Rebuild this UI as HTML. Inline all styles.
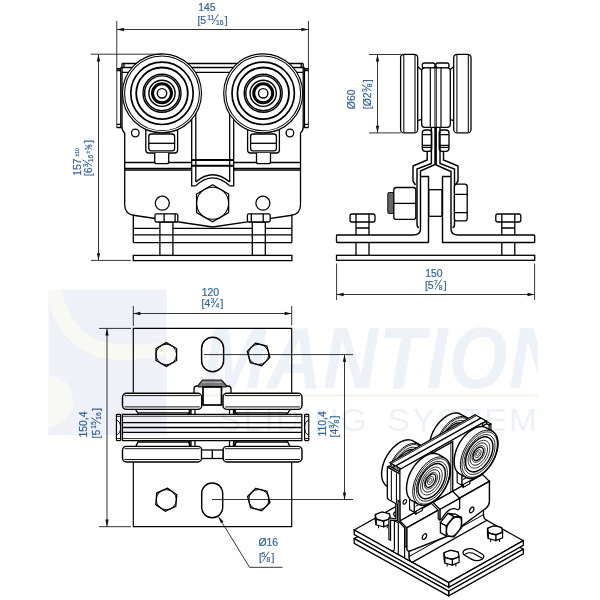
<!DOCTYPE html>
<html><head><meta charset="utf-8"><style>
html,body{margin:0;padding:0;background:#fff;width:600px;height:600px;overflow:hidden}
svg{display:block;will-change:transform}
.k{stroke:#000;fill:none}
.w{stroke:#000;fill:#fff}
.t{stroke:#111;fill:none;stroke-width:0.85}
.a{fill:#111;stroke:none}
text{font-family:"Liberation Sans",sans-serif;fill:#3565a0;stroke:#3565a0;stroke-width:0.2px}
</style></head><body>
<svg width="600" height="600" viewBox="0 0 600 600">
<g stroke-width="1.30">
<path class="k" d="M122,63.5 H303.2 M122,63.5 V67.5 M124,63.5 V67.5 M303.2,63.5 V67.5 M301.2,63.5 V67.5 M120.75,67.5 H304.45 M122,72.4 H303.2"/>
<path class="k" d="M116.75,68.75 H120.75 M116.75,70.5 H120.75 M120.75,67.5 V127.5 M116.75,127.5 H122 M116.75,124.3 H120.75"/>
<path class="k" d="M308.45,68.75 H304.45 M308.45,70.5 H304.45 M304.45,67.5 V127.5 M308.45,127.5 H303.2 M308.45,124.3 H304.45"/>
<path class="k" d="M122,67.5 V127 Q122,131 124.7,133 V205 Q124.7,214.5 135,215.5 L212.6,227 L290.2,215.5 Q300.5,214.5 300.5,205 V133 Q303.2,131 303.2,127 V67.5"/>
<path class="k" stroke-width="1.30" d="M124.7,162.5 H191.7 M233.7,162.5 H300.5"/>
<path class="k" stroke-width="1.30" d="M124.7,168.3 H191.7 M233.7,168.3 H300.5"/>
<path class="k" stroke-width="1.30" d="M124.7,170 H191.7 M233.7,170 H300.5"/>
<path class="k" d="M191.7,72.4 V185.8 H195.8 M195.8,72.4 V182 M233.7,72.4 V185.8 H229.7 M229.7,72.4 V182"/>
<path class="k" stroke-width="1.95" d="M191.7,160 H233.7 M191.7,165.8 H233.7"/>
<path class="k" d="M195.8,185.8 Q212.6,170 229.7,185.8 M195.8,182 Q212.6,167.5 229.7,182"/>
<circle class="k" cx="135.3" cy="133" r="3.8"/><circle class="k" cx="289.9" cy="133" r="3.8"/>
<circle class="k" cx="162.3" cy="203.2" r="7"/><circle class="k" cx="262.9" cy="203.2" r="7"/>
<rect class="w" x="145.79999999999998" y="122" width="31.80000000000001" height="31" rx="3"/>
<rect class="k" x="148.79999999999998" y="134" width="25.80000000000001" height="16.8" rx="2.5"/>
<path class="k" d="M148.79999999999998,143.3 H174.6"/>
<path class="w" d="M154.7,153 V161.7 Q154.7,163.7 156.7,163.7 H166.7 Q168.7,163.7 168.7,161.7 V153"/>
<rect class="w" x="247.6" y="122" width="31.799999999999983" height="31" rx="3"/>
<rect class="k" x="250.6" y="134" width="25.799999999999983" height="16.8" rx="2.5"/>
<path class="k" d="M250.6,143.3 H276.4"/>
<path class="w" d="M256.5,153 V161.7 Q256.5,163.7 258.5,163.7 H268.5 Q270.5,163.7 270.5,161.7 V153"/>
<circle cx="162" cy="93.3" r="39.5" fill="#fff" stroke="none"/><circle cx="162" cy="93.3" r="39.5" class="k" stroke-width="1.17"/><circle cx="162" cy="93.3" r="37.4" class="k" stroke-width="1.04"/><circle cx="162" cy="93.3" r="31.2" class="k" stroke-width="1.69"/><circle cx="162" cy="93.3" r="25.8" class="k" stroke-width="1.82"/><circle cx="162" cy="93.3" r="19" class="k" stroke-width="1.43"/><circle cx="162" cy="93.3" r="17.4" class="k" stroke-width="1.43"/><circle cx="162" cy="93.3" r="13.1" class="k" stroke-width="1.43"/><circle cx="162" cy="93.3" r="10.1" class="k" stroke-width="1.82"/><circle cx="162" cy="93.3" r="8.9" class="k" stroke-width="1.82"/><circle cx="162" cy="93.3" r="4.7" class="k" stroke-width="1.43"/>
<circle cx="263.2" cy="93.3" r="39.5" fill="#fff" stroke="none"/><circle cx="263.2" cy="93.3" r="39.5" class="k" stroke-width="1.17"/><circle cx="263.2" cy="93.3" r="37.4" class="k" stroke-width="1.04"/><circle cx="263.2" cy="93.3" r="31.2" class="k" stroke-width="1.69"/><circle cx="263.2" cy="93.3" r="25.8" class="k" stroke-width="1.82"/><circle cx="263.2" cy="93.3" r="19" class="k" stroke-width="1.43"/><circle cx="263.2" cy="93.3" r="17.4" class="k" stroke-width="1.43"/><circle cx="263.2" cy="93.3" r="13.1" class="k" stroke-width="1.43"/><circle cx="263.2" cy="93.3" r="10.1" class="k" stroke-width="1.82"/><circle cx="263.2" cy="93.3" r="8.9" class="k" stroke-width="1.82"/><circle cx="263.2" cy="93.3" r="4.7" class="k" stroke-width="1.43"/>
<polygon class="w" points="212.60,184.80 228.62,194.05 228.62,212.55 212.60,221.80 196.58,212.55 196.58,194.05"/>
<circle class="k" cx="212.6" cy="203.3" r="16" stroke-width="1.04"/>
<path class="k" d="M133.3,214.5 V242.6 M291.9,214.5 V242.6 M133.3,228.3 H291.9 M133.3,234.8 H291.9 M133.3,242.6 H291.9"/>
<rect class="k" x="133.3" y="255.4" width="158.6" height="5.2"/>
<rect class="w" x="159.9" y="222" width="13" height="33.3"/>
<path class="k" d="M159.9,234.8 H172.9 M159.9,242.6 H172.9"/>
<rect class="w" x="155.0" y="213.8" width="22.8" height="8.2" rx="1.5"/>
<rect class="w" x="252.3" y="222" width="13" height="33.3"/>
<path class="k" d="M252.3,234.8 H265.3 M252.3,242.6 H265.3"/>
<rect class="w" x="247.4" y="213.8" width="22.8" height="8.2" rx="1.5"/>
<path class="k" d="M164.1,213.8 V222 M175.1,213.8 V222 M251.3,213.8 V222 M263.2,213.8 V222"/>
<path class="t" d="M116.75,21 V127.5 M308.45,21 V127.5 M117,29.5 H308.2"/>
<path class="a" d="M116.9,29.5 L123.9,27.8 L123.9,31.2Z"/>
<path class="a" d="M308.3,29.5 L301.3,27.8 L301.3,31.2Z"/>
<path class="t" d="M90.8,54.2 H162 M91,260.4 H130.8 M98.5,54.5 V260"/>
<path class="a" d="M98.5,54.4 L96.8,61.4 L100.2,61.4Z"/>
<path class="a" d="M98.5,260.2 L96.8,253.2 L100.2,253.2Z"/>
<text x="198.3" y="11.3" font-size="10.4">145</text>
<text x="197.40" y="23.70" font-size="10.4">[5</text><text x="207.17" y="19.80" font-size="6.8">11</text><path d="M212.17,24.10 L218.37,14.30" stroke="#3565a0" stroke-width="0.98" fill="none"/><text x="216.07" y="24.70" font-size="6.8">16</text><text x="224.84" y="23.70" font-size="10.4">]</text>
<g transform="translate(81,175.7) rotate(-90)"><text x="0" y="0" font-size="10.4">157</text><text x="19.3" y="-2.2" font-size="5">±10</text></g>
<g transform="translate(91.8,176.2) rotate(-90)"><text x="0.00" y="0.00" font-size="10.4">[6</text><text x="9.07" y="-3.90" font-size="6.8">3</text><path d="M10.17,0.40 L16.37,-9.40" stroke="#3565a0" stroke-width="0.98" fill="none"/><text x="13.97" y="1.00" font-size="6.8">16</text><text x="22.6" y="-2.2" font-size="5">±</text><text x="26.3" y="-2.6" font-size="4.6">3</text><path d="M27,0 L31,-6.5" stroke="#3565a0" stroke-width="0.85"/><text x="29.2" y="0" font-size="4.6">8</text><text x="33.2" y="0" font-size="10.4">]</text></g>
<rect class="w" x="400.6" y="54.3" width="17.099999999999966" height="78.6" rx="3.5"/>
<path class="k" stroke-width="1.04" d="M403.8,55 V132.2 M415.0,55 V132.2"/>
<rect class="w" x="453.7" y="54.3" width="17.30000000000001" height="78.6" rx="3.5"/>
<path class="k" stroke-width="1.04" d="M456.9,55 V132.2 M468.3,55 V132.2"/>
<path class="k" d="M417.7,66.7 L421.7,70 M417.7,120.7 L421.7,119.3 M453.7,66.7 L449.7,70 M453.7,120.7 L449.7,119.3"/>
<rect class="w" x="422.3" y="63" width="12.7" height="5" rx="2"/><rect class="w" x="435.8" y="63" width="13.2" height="5" rx="2"/>
<rect class="w" x="421.7" y="67.8" width="28.6" height="59.5" rx="3"/>
<path class="k" stroke-width="1.17" d="M430.3,68 V127.3 M441,68 V127.3"/>
<path class="k" stroke-width="0.91" d="M434.9,66 V127.3 M436.3,66 V127.3"/>
<rect class="w" x="422.3" y="130" width="9.399999999999977" height="21.3" rx="3"/>
<path class="k" d="M422.3,134.7 H431.7 M422.3,145.3 H431.7 M422.3,147.3 H431.7"/>
<rect class="w" x="439.2" y="130" width="9.800000000000011" height="21.3" rx="3"/>
<path class="k" d="M439.2,134.7 H449 M439.2,145.3 H449 M439.2,147.3 H449"/>
<path class="k" stroke-width="1.43" d="M427.2,151.3 V160 L413,166 V181 L415.5,185 M431.4,127.3 V163.5 L417,169 V224 Q417,227.5 419,227.5 M435,127.3 V164.5 L420.5,171 V229 Q420.5,235 413,235 M436.2,127.3 V165 L451,171.5 V229 Q451,235 458,235 M440,127.3 V163.5 L454.5,169 V224 Q454.5,227.5 452.5,227.5 M443.5,151.3 V160 L458,166 V181 L455.5,185 M420.5,176.5 H428.5 V242.5 M451,176.5 H442.5 V242.5"/>
<rect class="k" x="428.7" y="189.7" width="13.3" height="26.6"/>
<rect x="387.8" y="192.4" width="6.5" height="21.1" rx="1.5" fill="#666" stroke="#141414" stroke-width="1.04"/>
<rect class="w" x="393.8" y="187.5" width="22" height="31.9" rx="2.5"/>
<path class="k" d="M393.8,203.4 H415.8"/>
<rect class="w" x="454.4" y="184.2" width="12.8" height="36.7" rx="2.5"/>
<path class="k" d="M454.4,194.3 H467.2 M454.4,212.6 H467.2"/>
<path class="k" d="M413,235 H337.2 Q336.5,235 336.5,235.7 V241.8 Q336.5,242.5 337.2,242.5 H428.7 M458,235 H534 Q534.7,235 534.7,235.7 V241.8 Q534.7,242.5 534,242.5 H442"/>
<rect class="k" x="336.5" y="255.3" width="198.2" height="5"/>
<path class="k" d="M356.0,222 V235 M369.0,222 V235 M356.0,243 V255.6 M369.0,243 V255.6 M356.0,228 H369.0"/>
<rect class="w" x="350.0" y="214" width="25" height="8" rx="2"/>
<path class="k" d="M356.0,214 V222 M369.0,214 V222"/>
<path class="k" d="M501.8,222 V235 M514.8,222 V235 M501.8,243 V255.6 M514.8,243 V255.6 M501.8,228 H514.8"/>
<rect class="w" x="495.8" y="214" width="25" height="8" rx="2"/>
<path class="k" d="M501.8,214 V222 M514.8,214 V222"/>
<path class="t" d="M369,54.5 H401 M369,132.9 H401 M377.5,54.6 V132.8"/>
<path class="a" d="M377.5,54.6 L375.8,61.6 L379.2,61.6Z"/>
<path class="a" d="M377.5,132.8 L375.8,125.80000000000001 L379.2,125.80000000000001Z"/>
<path class="t" d="M336.6,263.5 V300 M534.6,263.5 V300 M336.8,294.5 H534.4"/>
<path class="a" d="M336.7,294.5 L343.7,292.8 L343.7,296.2Z"/>
<path class="a" d="M534.5,294.5 L527.5,292.8 L527.5,296.2Z"/>
<text x="425.3" y="277" font-size="10.4">150</text>
<text x="424.90" y="289.00" font-size="10.4">[5</text><text x="433.97" y="285.10" font-size="6.8">7</text><path d="M435.07,289.40 L441.27,279.60" stroke="#3565a0" stroke-width="0.98" fill="none"/><text x="438.87" y="290.00" font-size="6.8">8</text><text x="443.85" y="289.00" font-size="10.4">]</text>
<g transform="translate(355,109.2) rotate(-90)"><text x="0" y="0" font-size="10.4">Ø60</text></g>
<g transform="translate(371.3,109.2) rotate(-90)"><text x="0.00" y="0.00" font-size="10.4">[Ø2</text><text x="17.16" y="-3.90" font-size="6.8">3</text><path d="M18.26,0.40 L24.46,-9.40" stroke="#3565a0" stroke-width="0.98" fill="none"/><text x="22.06" y="1.00" font-size="6.8">8</text><text x="27.05" y="0.00" font-size="10.4">]</text></g>
<path class="k" stroke-width="1.17" d="M133.3,393 V328.4 H291.7 V393 M133.3,462 V526.7 H291.7 V462"/>
<polygon class="k" stroke-width="1.30" points="166.30,342.60 176.61,348.55 176.61,360.45 166.30,366.40 155.99,360.45 155.99,348.55"/>
<circle class="k" stroke-width="0.98" cx="166.3" cy="354.5" r="10.29"/>
<polygon class="k" stroke-width="1.30" points="255.57,343.10 266.87,346.13 269.90,357.43 261.63,365.70 250.33,362.67 247.30,351.37"/>
<circle class="k" stroke-width="0.98" cx="258.6" cy="354.4" r="10.12"/>
<polygon class="k" stroke-width="1.30" points="167.31,488.14 176.81,494.80 175.80,506.35 165.29,511.26 155.79,504.60 156.80,493.05"/>
<circle class="k" stroke-width="0.98" cx="166.3" cy="499.7" r="10.03"/>
<polygon class="k" stroke-width="1.30" points="255.80,488.30 267.00,491.30 270.00,502.50 261.80,510.70 250.60,507.70 247.60,496.50"/>
<circle class="k" stroke-width="0.98" cx="258.8" cy="499.5" r="10.03"/>
<path class="k" stroke-width="1.43" d="M201.6,348.2 A11.0,11.0 0 0 1 223.6,348.2 V360.8 A11.0,11.0 0 0 1 201.6,360.8 Z"/>
<path class="k" stroke-width="1.43" d="M201.7,493.5 A10.5,10.5 0 0 1 222.7,493.5 V507.29999999999995 A10.5,10.5 0 0 1 201.7,507.29999999999995 Z"/>
<rect class="w" x="122.4" y="414.4" width="179.4" height="26.2"/>
<path class="k" stroke-width="0.78" d="M122.4,416.3 H301.8"/>
<path class="k" stroke-width="1.17" d="M122.4,422.6 H301.8"/>
<path class="k" stroke-width="1.69" d="M122.4,427.5 H301.8"/>
<path class="k" stroke-width="1.17" d="M122.4,432.4 H301.8"/>
<path class="k" stroke-width="0.78" d="M122.4,438.5 H301.8"/>
<rect class="w" stroke-width="1.17" x="116.4" y="414.4" width="4.199999999999989" height="26.2" rx="0.8"/>
<path class="k" stroke-width="0.91" d="M116.4,416.3 H120.6 M116.4,438.6 H120.6 M116.4,420 Q120.6,421.5 120.6,427.5 Q120.6,433.5 116.4,435"/>
<rect class="w" stroke-width="1.17" x="304.6" y="414.4" width="4.199999999999989" height="26.2" rx="0.8"/>
<path class="k" stroke-width="0.91" d="M308.8,416.3 H304.6 M308.8,438.6 H304.6 M308.8,420 Q304.6,421.5 304.6,427.5 Q304.6,433.5 308.8,435"/>
<path class="k" d="M135.7,409.8 L138.7,414.2 M190.7,409.8 L187.7,414.2 M135.7,446.6 L138.7,440.6 M190.7,446.6 L187.7,440.6 M138.7,412.8 H187.7 M138.7,442 H187.7"/>
<path class="k" d="M234,409.8 L237,414.2 M290,409.8 L287,414.2 M234,446.6 L237,440.6 M290,446.6 L287,440.6 M237,412.8 H287 M237,442 H287"/>
<path class="k" d="M189.5,409 V414.2 M191,409 V414.2 M195,409 V414.2 M229.5,409 V414.2 M233.5,409 V414.2 M235,409 V414.2 M189.5,441 V446.6 M191,441 V446.6 M195,441 V446.6 M229.5,441 V446.6 M233.5,441 V446.6 M235,441 V446.6"/>
<path class="w" d="M194,393 V389 Q194,386 197,386 H228 Q231,386 231,389 V393"/>
<path d="M202.5,380 H221.5 L226,385 V387 H198.5 V385 Z" fill="#7a7a7a" stroke="#141414" stroke-width="1.17"/>
<path fill="none" stroke="#bbb" stroke-width="1.04" d="M202,382.3 H222"/>
<rect class="w" x="203" y="387" width="18.5" height="18" stroke-width="1.69"/>
<rect class="w" x="122.5" y="393.3" width="79.19999999999999" height="16.099999999999966" rx="4" stroke-width="1.43"/>
<path class="k" stroke="#777" stroke-width="0.91" d="M124.5,395.6 H199.7 M124.5,406.9 H199.7"/>
<rect class="w" x="122.5" y="446.4" width="79.19999999999999" height="15.600000000000023" rx="4" stroke-width="1.43"/>
<path class="k" stroke="#777" stroke-width="0.91" d="M124.5,448.7 H199.7 M124.5,459.5 H199.7"/>
<rect class="w" x="223" y="393.3" width="79" height="16.099999999999966" rx="4" stroke-width="1.43"/>
<path class="k" stroke="#777" stroke-width="0.91" d="M225,395.6 H300 M225,406.9 H300"/>
<rect class="w" x="223" y="446.4" width="79" height="15.600000000000023" rx="4" stroke-width="1.43"/>
<path class="k" stroke="#777" stroke-width="0.91" d="M225,448.7 H300 M225,459.5 H300"/>
<rect class="w" x="201.5" y="450" width="21.5" height="8.5"/>
<path class="k" d="M212.3,450 V458.5"/>
<path class="t" d="M133.3,306 V326 M291.7,306 V325.5 M133.5,313.5 H291.5"/>
<path class="a" d="M133.4,313.5 L140.4,311.8 L140.4,315.2Z"/>
<path class="a" d="M291.6,313.5 L284.6,311.8 L284.6,315.2Z"/>
<text x="201.8" y="295.5" font-size="10.4">120</text>
<text x="201.50" y="307.30" font-size="10.4">[4</text><text x="210.57" y="303.40" font-size="6.8">3</text><path d="M211.67,307.70 L217.87,297.90" stroke="#3565a0" stroke-width="0.98" fill="none"/><text x="215.47" y="308.30" font-size="6.8">4</text><text x="220.45" y="307.30" font-size="10.4">]</text>
<path class="t" d="M99,328.4 H131 M99,526.7 H131 M107,328.6 V526.5"/>
<path class="a" d="M107,328.5 L105.3,335.5 L108.7,335.5Z"/>
<path class="a" d="M107,526.6 L105.3,519.6 L108.7,519.6Z"/>
<g transform="translate(87.3,437.5) rotate(-90)"><text x="0" y="0" font-size="10.4">150,4</text></g>
<g transform="translate(100.3,438.5) rotate(-90)"><text x="0.00" y="0.00" font-size="10.4">[5</text><text x="9.77" y="-3.90" font-size="6.8">15</text><path d="M14.77,0.40 L20.97,-9.40" stroke="#3565a0" stroke-width="0.98" fill="none"/><text x="18.67" y="1.00" font-size="6.8">16</text><text x="27.44" y="0.00" font-size="10.4">]</text></g>
<path class="t" d="M204,354.6 H353 M212,499.5 H353 M344.5,354.8 V499.3"/>
<path class="a" d="M344.5,354.7 L342.8,361.7 L346.2,361.7Z"/>
<path class="a" d="M344.5,499.4 L342.8,492.4 L346.2,492.4Z"/>
<g transform="translate(325.5,436.5) rotate(-90)"><text x="0" y="0" font-size="10.4">110,4</text></g>
<g transform="translate(338,437.5) rotate(-90)"><text x="0.00" y="0.00" font-size="10.4">[4</text><text x="9.07" y="-3.90" font-size="6.8">3</text><path d="M10.17,0.40 L16.37,-9.40" stroke="#3565a0" stroke-width="0.98" fill="none"/><text x="13.97" y="1.00" font-size="6.8">8</text><text x="18.95" y="0.00" font-size="10.4">]</text></g>
<path class="t" d="M219,517.5 L249.5,567.3 H282.5"/>
<path class="a" d="M218.3,516.3 L223.5,521.5 L220.8,523.2Z"/>
<text x="258.5" y="546" font-size="10.4">Ø16</text>
<text x="258.90" y="561.00" font-size="10.4">[</text><text x="261.59" y="557.10" font-size="6.8">5</text><path d="M262.69,561.40 L268.89,551.60" stroke="#3565a0" stroke-width="0.98" fill="none"/><text x="266.49" y="562.00" font-size="6.8">8</text><text x="271.47" y="561.00" font-size="10.4">]</text>
<path class="w" stroke-width="1.30" d="M354.2,538.6 L428.8,496.6 L523.3,549.25 L448.7,591.25Z" /><path class="w" stroke-width="1.30" d="M448.7,591.25 L523.3,549.25 L523.3,553.91 L448.7,595.91Z" /><path class="w" stroke-width="1.30" d="M354.2,538.6 L448.7,591.25 L448.7,595.91 L354.2,543.26Z" />
<path class="w" stroke-width="1.30" d="M354.2,530 L428.8,488 L523.3,540.65 L448.7,582.65Z" /><path class="w" stroke-width="1.30" d="M448.7,582.65 L523.3,540.65 L523.3,545.31 L448.7,587.31Z" /><path class="w" stroke-width="1.30" d="M354.2,530 L448.7,582.65 L448.7,587.31 L354.2,534.66Z" />
<path class="k" stroke-width="1.04" d="M378.5,528.25 L378.5,522.16M387.18,528.29 L387.18,522.2" /><path class="w" stroke-width="1.17" d="M390.41,518.42 L383.62,521.08 L383.62,526.82 L390.41,524.15Z" /><path class="w" stroke-width="1.17" d="M383.62,521.08 L376.06,519.11 L376.06,524.84 L383.62,526.82Z" /><path class="w" stroke-width="1.17" d="M376.06,519.11 L375.28,514.46 L375.28,520.2 L376.06,524.84Z" /><path class="w" stroke-width="1.17" d="M389.63,513.77 L390.41,518.42 L383.62,521.08 L376.06,519.11 L375.28,514.46 L382.06,511.8Z" /><path class="k" stroke-width="0.78" d="M387.87,513.61C390.68,515.18 390.71,517.71 387.94,519.28C385.16,520.84 380.63,520.84 377.82,519.27C375,517.7 374.97,515.17 377.75,513.6C380.53,512.04 385.06,512.04 387.87,513.61Z"/>
<path class="k" stroke-width="1.04" d="M422.02,503.75 L422.02,497.66M430.7,503.79 L430.7,497.7" /><path class="w" stroke-width="1.17" d="M433.93,493.92 L427.14,496.58 L427.14,502.32 L433.93,499.65Z" /><path class="w" stroke-width="1.17" d="M427.14,496.58 L419.58,494.61 L419.58,500.34 L427.14,502.32Z" /><path class="w" stroke-width="1.17" d="M419.58,494.61 L418.8,489.96 L418.8,495.7 L419.58,500.34Z" /><path class="w" stroke-width="1.17" d="M433.15,489.27 L433.93,493.92 L427.14,496.58 L419.58,494.61 L418.8,489.96 L425.58,487.3Z" /><path class="k" stroke-width="0.78" d="M431.39,489.11C434.2,490.68 434.23,493.21 431.46,494.78C428.68,496.34 424.15,496.34 421.34,494.77C418.52,493.2 418.49,490.67 421.27,489.1C424.05,487.54 428.58,487.54 431.39,489.11Z"/>
<clipPath id="slotc1"><path d="M395.76,516.94C392.97,515.39 392.94,512.88 395.69,511.33C398.44,509.79 402.92,509.79 405.71,511.34L412.45,515.1C415.23,516.65 415.26,519.16 412.51,520.71C409.77,522.25 405.28,522.25 402.5,520.7Z"/></clipPath><path class="w" stroke-width="1.30" d="M395.76,516.94C392.97,515.39 392.94,512.88 395.69,511.33C398.44,509.79 402.92,509.79 405.71,511.34L412.45,515.1C415.23,516.65 415.26,519.16 412.51,520.71C409.77,522.25 405.28,522.25 402.5,520.7Z" /><g clip-path="url(#slotc1)"><path class="k" stroke-width="1.04" d="M395.76,521.24C392.97,519.69 392.94,517.18 395.69,515.64C398.44,514.09 402.92,514.09 405.71,515.64L412.45,519.4C415.23,520.95 415.26,523.46 412.51,525.01C409.77,526.55 405.28,526.55 402.5,525Z" /></g>
<path class="w" stroke-width="1.17" d="M391.06,550.53Q394.39,552.39 394.39,548.59L394.39,520.63L398.3,522.81L398.3,554.57Z" />
<path class="w" stroke-width="1.17" d="M388.9,539.38L388.9,517.94L395.77,518.76L395.77,499.47L397.41,500.38L397.41,520.53L390.54,520.22L390.54,540.29Z" />
<path class="w" stroke-width="1.43" d="M429.23,447.31 L429.3,445.4 L429.51,443.43 L429.67,442.51 L430,440.61 L430.46,438.67 L431.04,436.72 L431.75,434.76 L432.56,432.82 L433.49,430.9 L434.52,429.03 L435.65,427.21 L436.85,425.46 L438.14,423.79 L439.49,422.22 L440.9,420.75 L442.35,419.41 L443.01,418.85 L444.59,417.55 L446.2,416.4 L447.82,415.41 L449.44,414.58 L451.05,413.92 L452.63,413.43 L454.18,413.12 L455.68,413 L457.11,413.05 L458.48,413.28 L459.77,413.7 L460.96,414.29 L466.76,417.52 L467.86,418.28 L468.84,419.21 L469.71,420.29 L470.46,421.53 L471.08,422.91 L471.57,424.42 L471.92,426.05 L472.13,427.78 L472.2,429.61 L472.13,431.52 L471.92,433.49 L471.57,435.52 L471.08,437.58 L470.46,439.65 L469.71,441.73 L468.84,443.8 L467.86,445.84 L466.76,447.84 L465.56,449.77 L464.28,451.64 L462.91,453.41 L461.47,455.08 L459.97,456.64 L458.43,458.08 L456.84,459.37 L455.24,460.52 L453.62,461.51 L452,462.35 L450.39,463.01 L448.8,463.49 L447.26,463.8 L445.76,463.93 L444.32,463.88 L442.95,463.64 L441.67,463.23 L440.47,462.64 L434.68,459.41 L433.58,458.64 L432.59,457.72 L431.72,456.63 L430.97,455.39 L430.35,454.01 L429.86,452.5 L429.51,450.88 L429.3,449.14Z" /><path class="k" stroke-width="0.98" d="M472.14,429.79C472.14,418.07 463.91,413.2 453.74,418.92C443.58,424.65 435.34,438.79 435.34,450.51C435.34,462.23 443.58,467.09 453.74,461.37C463.91,455.65 472.14,441.51 472.14,429.79Z" /><path class="k" stroke-width="0.85" d="M471.9,430.49C471.9,419.24 464,414.57 454.25,420.06C444.49,425.55 436.59,439.12 436.59,450.37C436.59,461.61 444.49,466.28 454.25,460.79C464,455.3 471.9,441.73 471.9,430.49Z" /><path class="k" stroke-width="0.85" d="M469.66,431.61C469.66,421.71 462.7,417.6 454.12,422.43C445.54,427.27 438.58,439.21 438.58,449.11C438.58,459.01 445.54,463.12 454.12,458.28C462.7,453.45 469.66,441.51 469.66,431.61Z" /><path class="k" stroke-width="1.43" d="M467.54,432.52C467.54,423.81 461.42,420.19 453.87,424.44C446.31,428.7 440.19,439.21 440.19,447.92C440.19,456.63 446.31,460.24 453.87,455.99C461.42,451.74 467.54,441.23 467.54,432.52Z" /><path class="k" stroke-width="0.78" d="M464.5,433.95C464.5,427.02 459.62,424.15 453.62,427.53C447.61,430.91 442.74,439.27 442.74,446.2C442.74,453.13 447.61,456.01 453.62,452.62C459.62,449.24 464.5,440.88 464.5,433.95Z" /><path class="k" stroke-width="0.91" d="M462.07,435.04C462.07,429.49 458.17,427.19 453.36,429.9C448.56,432.6 444.66,439.29 444.66,444.84C444.66,450.38 448.56,452.68 453.36,449.97C458.17,447.27 462.07,440.58 462.07,435.04Z" /><path class="k" stroke-width="0.78" d="M459.64,436.12C459.64,431.96 456.72,430.24 453.11,432.27C449.51,434.3 446.58,439.31 446.58,443.47C446.58,447.63 449.51,449.35 453.11,447.32C456.72,445.29 459.64,440.28 459.64,436.12Z" /><path class="k" stroke-width="1.30" d="M458.08,436.72C458.08,433.39 455.74,432.01 452.86,433.63C449.98,435.26 447.64,439.27 447.64,442.6C447.64,445.92 449.98,447.3 452.86,445.68C455.74,444.05 458.08,440.04 458.08,436.72Z" /><path class="k" stroke-width="0.85" d="M455.72,437.76C455.72,435.79 454.32,434.96 452.61,435.93C450.89,436.9 449.5,439.29 449.5,441.26C449.5,443.24 450.89,444.07 452.61,443.1C454.32,442.13 455.72,439.74 455.72,437.76Z" /><path class="k" stroke-width="0.78" d="M454.04,438.57C454.04,437.58 453.34,437.17 452.48,437.65C451.62,438.14 450.93,439.33 450.93,440.32C450.93,441.31 451.62,441.72 452.48,441.24C453.34,440.75 454.04,439.56 454.04,438.57Z" />
<path class="w" stroke-width="1.43" d="M381.61,474.12 L381.68,472.21 L381.89,470.24 L382.05,469.32 L382.38,467.42 L382.84,465.48 L383.42,463.53 L384.12,461.57 L384.94,459.63 L385.87,457.71 L386.9,455.84 L388.02,454.02 L389.23,452.27 L390.52,450.6 L391.87,449.03 L393.28,447.56 L394.73,446.22 L395.39,445.66 L396.97,444.36 L398.58,443.21 L400.2,442.22 L401.82,441.39 L403.43,440.73 L405.01,440.24 L406.55,439.93 L408.05,439.81 L409.49,439.86 L410.86,440.09 L412.15,440.51 L413.34,441.1 L419.14,444.33 L420.23,445.09 L421.22,446.02 L422.09,447.1 L422.84,448.34 L423.46,449.72 L423.95,451.23 L424.3,452.86 L424.51,454.59 L424.58,456.42 L424.51,458.33 L424.3,460.3 L423.95,462.33 L423.46,464.39 L422.84,466.46 L422.09,468.54 L421.22,470.61 L420.23,472.65 L419.14,474.65 L417.94,476.58 L416.66,478.45 L415.29,480.22 L413.85,481.89 L412.35,483.45 L410.8,484.89 L409.22,486.18 L407.61,487.33 L405.99,488.32 L404.37,489.16 L402.77,489.82 L401.18,490.3 L399.64,490.61 L398.14,490.74 L396.7,490.69 L395.33,490.45 L394.04,490.04 L392.85,489.45 L387.05,486.22 L385.96,485.45 L384.97,484.53 L384.1,483.44 L383.35,482.2 L382.73,480.82 L382.24,479.31 L381.89,477.69 L381.68,475.95Z" /><path class="k" stroke-width="0.98" d="M424.52,456.6C424.52,444.88 416.28,440.01 406.12,445.73C395.96,451.46 387.72,465.6 387.72,477.32C387.72,489.04 395.96,493.9 406.12,488.18C416.28,482.46 424.52,468.32 424.52,456.6Z" /><path class="k" stroke-width="0.85" d="M424.28,457.3C424.28,446.05 416.37,441.38 406.62,446.87C396.87,452.36 388.97,465.93 388.97,477.18C388.97,488.42 396.87,493.09 406.62,487.6C416.37,482.11 424.28,468.54 424.28,457.3Z" /><path class="k" stroke-width="0.85" d="M422.04,458.42C422.04,448.52 415.08,444.41 406.5,449.24C397.91,454.08 390.95,466.02 390.95,475.92C390.95,485.82 397.91,489.93 406.5,485.09C415.08,480.26 422.04,468.32 422.04,458.42Z" /><path class="k" stroke-width="1.43" d="M419.92,459.33C419.92,450.62 413.8,447 406.25,451.25C398.69,455.51 392.57,466.02 392.57,474.73C392.57,483.44 398.69,487.05 406.25,482.8C413.8,478.55 419.92,468.04 419.92,459.33Z" /><path class="k" stroke-width="0.78" d="M416.87,460.76C416.87,453.83 412,450.96 405.99,454.34C399.98,457.72 395.11,466.08 395.11,473.01C395.11,479.94 399.98,482.82 405.99,479.43C412,476.05 416.87,467.69 416.87,460.76Z" /><path class="k" stroke-width="0.91" d="M414.45,461.85C414.45,456.3 410.55,454 405.74,456.71C400.93,459.41 397.04,466.1 397.04,471.65C397.04,477.19 400.93,479.49 405.74,476.78C410.55,474.08 414.45,467.39 414.45,461.85Z" /><path class="k" stroke-width="0.78" d="M412.02,462.93C412.02,458.77 409.09,457.05 405.49,459.08C401.88,461.11 398.96,466.12 398.96,470.28C398.96,474.44 401.88,476.16 405.49,474.13C409.09,472.1 412.02,467.09 412.02,462.93Z" /><path class="k" stroke-width="1.30" d="M410.46,463.53C410.46,460.2 408.12,458.82 405.24,460.44C402.35,462.07 400.01,466.08 400.01,469.41C400.01,472.73 402.35,474.11 405.24,472.49C408.12,470.86 410.46,466.85 410.46,463.53Z" /><path class="k" stroke-width="0.85" d="M408.09,464.57C408.09,462.6 406.7,461.77 404.99,462.74C403.27,463.71 401.88,466.1 401.88,468.07C401.88,470.05 403.27,470.88 404.99,469.91C406.7,468.94 408.09,466.55 408.09,464.57Z" /><path class="k" stroke-width="0.78" d="M406.41,465.38C406.41,464.39 405.72,463.98 404.86,464.46C404,464.95 403.3,466.14 403.3,467.13C403.3,468.12 404,468.53 404.86,468.05C405.72,467.56 406.41,466.37 406.41,465.38Z" />
<path class="w" stroke-width="1.30" d="M412.22,562.33L486.83,520.33Q483.49,518.47 483.49,514.67L483.49,486.7L408.88,528.7L408.88,556.67Q408.88,560.47 412.22,562.33Z" />
<path class="k" stroke-width="1.04" d="M408.88,556.67 L483.49,514.67" />
<path class="w" stroke-width="1.17" d="M404.6,558.08L404.6,526.32L408.88,528.7L408.88,556.67Q408.88,560.47 412.22,562.33Z" />
<path class="w" stroke-width="1.17" d="M489.08,424.98 L490.95,423.93 L490.95,455.77 L489.08,456.82Z" />
<path class="w" stroke-width="1.17" d="M475.47,417.4 L477.34,416.35 L490.95,423.93 L489.08,424.98Z" />
<path class="w" stroke-width="1.30" d="M389.86,462.73 L475.04,414.78 L486.5,421.16 L401.33,469.11Z" />
<path class="w" stroke-width="1.30" d="M401.33,469.11 L486.5,421.16 L486.5,423.75 L401.33,471.7Z" />
<path class="k" stroke-width="0.91" d="M391.25,463.5 L476.42,415.55" />
<path class="k" stroke-width="1.43" d="M395.66,465.96 L480.83,418.01" />
<path class="w" stroke-width="1.17" d="M387.31,467.03 L389.18,465.98 L402.79,473.56 L400.92,474.61Z" />
<path class="w" stroke-width="1.17" d="M400.92,474.61 L402.79,473.56 L402.79,505.4 L400.92,506.45Z" />
<path class="w" stroke-width="1.30" d="M388.95,467.94L399.28,473.7Q400.92,474.61 400.92,476.48L400.92,504.58Q400.92,506.45 399.28,505.53L388.95,499.78Q387.31,498.86 387.31,497L387.31,468.89Q387.31,467.03 388.95,467.94Z" />
<path class="k" stroke-width="1.04" d="M391.35,470.42 L391.35,500.18M396.45,473.27 L396.45,503.02" />
<path class="w" stroke-width="1.30" d="M399.86,469.49 L482.55,422.94 L482.55,474.49 L399.86,521.04Z" />
<path class="k" stroke-width="1.17" d="M406.64,500.8C406.64,499.66 405.83,499.18 404.84,499.74C403.84,500.3 403.03,501.69 403.03,502.83C403.03,503.98 403.84,504.46 404.84,503.9C405.83,503.34 406.64,501.95 406.64,500.8Z" />
<path class="k" stroke-width="1.17" d="M479.38,459.85C479.38,458.71 478.57,458.23 477.58,458.79C476.58,459.35 475.77,460.74 475.77,461.88C475.77,463.03 476.58,463.51 477.58,462.95C478.57,462.39 479.38,461 479.38,459.85Z" />
<path class="w" stroke-width="1.30" d="M399.86,521.04 L482.55,474.49 L489.42,481.33 L406.73,527.88Z" />
<path class="w" stroke-width="1.43" d="M406.73,527.88L489.42,481.33L489.42,500.83Q489.42,506.53 484.57,509.26L448.07,536.04L411.58,550.35Q406.73,553.08 406.73,547.38Z" />
<path class="w" stroke-width="1.17" d="M405.09,546.47L405.09,528.33L398.04,520.88L398.04,500.38L399.86,501.39L399.86,521.04L406.73,527.88L406.73,547.38Z" />
<path class="k" stroke-width="1.30" d="M426.69,535.28C426.69,533.86 425.69,533.27 424.45,533.96C423.21,534.66 422.21,536.38 422.21,537.8C422.21,539.23 423.21,539.82 424.45,539.12C425.69,538.43 426.69,536.71 426.69,535.28Z" />
<path class="k" stroke-width="1.30" d="M474,508.65C474,507.22 473,506.63 471.76,507.33C470.52,508.02 469.52,509.74 469.52,511.17C469.52,512.59 470.52,513.19 471.76,512.49C473,511.79 474,510.07 474,508.65Z" />
<path class="w" stroke-width="1.17" d="M414.16,507.32 L420.63,503.68 L422.27,504.6 L415.8,508.24Z" /><path class="w" stroke-width="1.17" d="M415.8,508.24 L422.27,504.6 L422.27,510.48 L415.8,514.12Z" /><path class="w" stroke-width="1.17" d="M414.16,507.32 L415.8,508.24 L415.8,514.12 L414.16,513.2Z" />
<path class="w" stroke-width="1.17" d="M409.56,495.15 L424.48,486.75 L429.14,489.35 L414.22,497.75Z" /><path class="w" stroke-width="1.17" d="M414.22,497.75 L429.14,489.35 L429.14,503.76 L414.22,512.16Z" /><path class="w" stroke-width="1.17" d="M409.56,495.15 L414.22,497.75 L414.22,512.16 L409.56,509.57Z" />
<path class="k" stroke-width="1.04" d="M415.46,506.37 L427.9,499.37" />
<path class="w" stroke-width="1.17" d="M461.79,480.51 L468.25,476.87 L469.89,477.79 L463.42,481.43Z" /><path class="w" stroke-width="1.17" d="M463.42,481.43 L469.89,477.79 L469.89,483.67 L463.42,487.31Z" /><path class="w" stroke-width="1.17" d="M461.79,480.51 L463.42,481.43 L463.42,487.31 L461.79,486.39Z" />
<path class="w" stroke-width="1.17" d="M457.18,468.34 L472.1,459.94 L476.76,462.54 L461.84,470.94Z" /><path class="w" stroke-width="1.17" d="M461.84,470.94 L476.76,462.54 L476.76,476.95 L461.84,485.35Z" /><path class="w" stroke-width="1.17" d="M457.18,468.34 L461.84,470.94 L461.84,485.35 L457.18,482.76Z" />
<path class="k" stroke-width="1.04" d="M463.09,479.56 L475.52,472.56" />
<path class="w" stroke-width="1.30" d="M432.96,452.69 L452.73,441.56 L452.73,491.25 L432.96,502.38Z" />
<path class="w" stroke-width="1.30" d="M432.96,502.38 L452.73,491.25 L459.66,498.33 L439.89,509.46Z" />
<path class="w" stroke-width="1.30" d="M439.89,509.46L459.66,498.33L459.66,508.66L457.8,509.71Q449.78,505.12 441.76,518.74L439.89,519.79Z" />
<path class="w" stroke-width="1.17" d="M431.32,451.78 L432.96,452.69 L432.96,502.38 L439.89,509.46 L439.89,519.79 L438.19,518.84 L438.19,510.17 L431.32,503.33Z" />
<path class="k" stroke-width="0.91" d="M434.83,451.64 L434.83,501.33M450.87,442.61 L450.87,492.3" />
<path class="w" stroke-width="1.43" d="M454.12,461.6 L454.19,459.65 L454.41,457.64 L454.57,456.72 L454.9,454.77 L455.37,452.8 L455.97,450.8 L456.69,448.81 L457.52,446.82 L458.47,444.86 L459.52,442.95 L460.67,441.09 L461.9,439.3 L463.22,437.6 L464.6,435.99 L466.03,434.49 L467.52,433.12 L468.17,432.56 L469.79,431.24 L471.43,430.07 L473.08,429.05 L474.74,428.21 L476.38,427.53 L477.99,427.04 L479.57,426.72 L481.1,426.59 L482.56,426.65 L483.96,426.89 L485.27,427.31 L486.49,427.91 L492.41,431.21 L493.53,431.99 L494.54,432.93 L495.43,434.04 L496.19,435.31 L496.82,436.71 L497.32,438.25 L497.68,439.91 L497.89,441.68 L497.97,443.55 L497.89,445.49 L497.68,447.51 L497.32,449.57 L496.82,451.67 L496.19,453.79 L495.43,455.91 L494.54,458.02 L493.53,460.1 L492.41,462.14 L491.19,464.11 L489.88,466.01 L488.49,467.82 L487.02,469.53 L485.49,471.12 L483.91,472.58 L482.3,473.9 L480.66,475.08 L479,476.09 L477.35,476.94 L475.71,477.61 L474.1,478.11 L472.52,478.42 L470.99,478.55 L469.52,478.5 L468.13,478.26 L466.82,477.84 L465.6,477.23 L459.67,473.93 L458.56,473.16 L457.55,472.21 L456.66,471.1 L455.9,469.84 L455.26,468.43 L454.77,466.89 L454.41,465.23 L454.19,463.46Z" /><path class="k" stroke-width="0.98" d="M497.91,443.72C497.91,431.76 489.5,426.8 479.13,432.64C468.76,438.48 460.36,452.9 460.36,464.86C460.36,476.82 468.76,481.78 479.13,475.95C489.5,470.11 497.91,455.68 497.91,443.72Z" /><path class="k" stroke-width="0.85" d="M497.29,444.63C497.29,433.39 489.39,428.72 479.63,434.21C469.88,439.7 461.98,453.27 461.98,464.51C461.98,475.76 469.88,480.43 479.63,474.94C489.39,469.45 497.29,455.88 497.29,444.63Z" /><path class="k" stroke-width="0.85" d="M495.05,445.75C495.05,435.85 488.09,431.75 479.51,436.58C470.92,441.41 463.97,453.35 463.97,463.25C463.97,473.15 470.92,477.26 479.51,472.43C488.09,467.6 495.05,455.65 495.05,445.75Z" /><path class="k" stroke-width="1.43" d="M492.93,446.66C492.93,437.95 486.81,434.34 479.26,438.59C471.7,442.84 465.58,453.35 465.58,462.06C465.58,470.77 471.7,474.39 479.26,470.14C486.81,465.88 492.93,455.37 492.93,446.66Z" /><path class="k" stroke-width="0.78" d="M489.88,448.1C489.88,441.17 485.01,438.29 479,441.67C473,445.06 468.12,453.42 468.12,460.35C468.12,467.28 473,470.15 479,466.77C485.01,463.39 489.88,455.03 489.88,448.1Z" /><path class="k" stroke-width="0.91" d="M487.46,449.18C487.46,443.64 483.56,441.34 478.75,444.04C473.95,446.75 470.05,453.44 470.05,458.98C470.05,464.53 473.95,466.83 478.75,464.12C483.56,461.41 487.46,454.73 487.46,449.18Z" /><path class="k" stroke-width="0.78" d="M485.03,450.27C485.03,446.11 482.11,444.38 478.5,446.41C474.9,448.44 471.97,453.46 471.97,457.62C471.97,461.77 474.9,463.5 478.5,461.47C482.11,459.44 485.03,454.42 485.03,450.27Z" /><path class="k" stroke-width="1.30" d="M483.47,450.86C483.47,447.53 481.13,446.15 478.25,447.78C475.36,449.4 473.03,453.41 473.03,456.74C473.03,460.07 475.36,461.45 478.25,459.82C481.13,458.2 483.47,454.19 483.47,450.86Z" /><path class="k" stroke-width="0.85" d="M481.1,451.91C481.1,449.93 479.71,449.11 478,450.08C476.28,451.04 474.89,453.43 474.89,455.41C474.89,457.39 476.28,458.21 478,457.25C479.71,456.28 481.1,453.89 481.1,451.91Z" /><path class="k" stroke-width="0.78" d="M479.42,452.72C479.42,451.73 478.73,451.31 477.87,451.8C477.01,452.28 476.32,453.48 476.32,454.47C476.32,455.46 477.01,455.87 477.87,455.38C478.73,454.9 479.42,453.71 479.42,452.72Z" />
<path class="w" stroke-width="1.43" d="M406.5,488.41 L406.57,486.46 L406.79,484.45 L406.94,483.53 L407.28,481.58 L407.75,479.61 L408.34,477.61 L409.06,475.62 L409.9,473.63 L410.85,471.67 L411.9,469.76 L413.05,467.9 L414.28,466.11 L415.59,464.41 L416.97,462.8 L418.41,461.3 L419.9,459.93 L420.55,459.37 L422.17,458.05 L423.81,456.88 L425.46,455.86 L427.11,455.02 L428.75,454.34 L430.37,453.85 L431.95,453.53 L433.47,453.4 L434.94,453.46 L436.34,453.7 L437.65,454.12 L438.87,454.72 L444.79,458.02 L445.91,458.8 L446.91,459.74 L447.8,460.85 L448.57,462.12 L449.2,463.52 L449.7,465.06 L450.06,466.72 L450.27,468.49 L450.34,470.36 L450.27,472.3 L450.06,474.32 L449.7,476.38 L449.2,478.48 L448.57,480.6 L447.8,482.72 L446.91,484.83 L445.91,486.91 L444.79,488.95 L443.57,490.92 L442.26,492.82 L440.86,494.63 L439.4,496.34 L437.87,497.93 L436.29,499.39 L434.67,500.71 L433.03,501.89 L431.38,502.9 L429.73,503.75 L428.09,504.42 L426.47,504.92 L424.9,505.23 L423.37,505.36 L421.9,505.31 L420.51,505.07 L419.19,504.65 L417.97,504.04 L412.05,500.74 L410.93,499.97 L409.93,499.02 L409.04,497.91 L408.27,496.65 L407.64,495.24 L407.14,493.7 L406.79,492.04 L406.57,490.27Z" /><path class="k" stroke-width="0.98" d="M450.28,470.53C450.28,458.57 441.88,453.61 431.51,459.45C421.14,465.29 412.73,479.71 412.73,491.67C412.73,503.63 421.14,508.59 431.51,502.76C441.88,496.92 450.28,482.49 450.28,470.53Z" /><path class="k" stroke-width="0.85" d="M449.67,471.44C449.67,460.2 441.76,455.53 432.01,461.02C422.26,466.51 414.36,480.08 414.36,491.32C414.36,502.57 422.26,507.24 432.01,501.75C441.76,496.26 449.67,482.69 449.67,471.44Z" /><path class="k" stroke-width="0.85" d="M447.43,472.56C447.43,462.66 440.47,458.56 431.89,463.39C423.3,468.22 416.34,480.16 416.34,490.06C416.34,499.96 423.3,504.07 431.89,499.24C440.47,494.41 447.43,482.46 447.43,472.56Z" /><path class="k" stroke-width="1.43" d="M445.31,473.47C445.31,464.76 439.19,461.15 431.63,465.4C424.08,469.65 417.96,480.16 417.96,488.87C417.96,497.58 424.08,501.2 431.63,496.95C439.19,492.69 445.31,482.18 445.31,473.47Z" /><path class="k" stroke-width="0.78" d="M442.26,474.91C442.26,467.98 437.39,465.1 431.38,468.48C425.37,471.87 420.5,480.23 420.5,487.16C420.5,494.09 425.37,496.96 431.38,493.58C437.39,490.2 442.26,481.84 442.26,474.91Z" /><path class="k" stroke-width="0.91" d="M439.83,475.99C439.83,470.45 435.94,468.15 431.13,470.85C426.32,473.56 422.43,480.25 422.43,485.79C422.43,491.34 426.32,493.64 431.13,490.93C435.94,488.22 439.83,481.54 439.83,475.99Z" /><path class="k" stroke-width="0.78" d="M437.41,477.08C437.41,472.92 434.48,471.19 430.88,473.22C427.27,475.25 424.35,480.27 424.35,484.43C424.35,488.58 427.27,490.31 430.88,488.28C434.48,486.25 437.41,481.23 437.41,477.08Z" /><path class="k" stroke-width="1.30" d="M435.85,477.67C435.85,474.34 433.51,472.96 430.63,474.59C427.74,476.21 425.4,480.22 425.4,483.55C425.4,486.88 427.74,488.26 430.63,486.63C433.51,485.01 435.85,481 435.85,477.67Z" /><path class="k" stroke-width="0.85" d="M433.48,478.72C433.48,476.74 432.09,475.92 430.37,476.89C428.66,477.85 427.27,480.24 427.27,482.22C427.27,484.2 428.66,485.02 430.37,484.06C432.09,483.09 433.48,480.7 433.48,478.72Z" /><path class="k" stroke-width="0.78" d="M431.8,479.53C431.8,478.54 431.11,478.12 430.25,478.61C429.39,479.09 428.69,480.29 428.69,481.28C428.69,482.27 429.39,482.68 430.25,482.19C431.11,481.71 431.8,480.52 431.8,479.53Z" />
<path class="w" stroke-width="1.30" d="M454,516.72 L461.54,517.49 L455.49,514.12 L447.95,513.35Z" />
<path class="w" stroke-width="1.30" d="M446.46,536.02 L446.46,525.98 L440.41,522.61 L440.41,532.65Z" />
<path class="w" stroke-width="1.30" d="M446.46,525.98 L454,516.72 L447.95,513.35 L440.41,522.61Z" />
<path class="w" stroke-width="1.43" d="M454,516.72 L461.54,517.49 L461.54,527.53 L454,536.79 L446.46,536.02 L446.46,525.98Z" />
<path class="k" stroke-width="0.91" d="M461.52,522.52C461.52,517.73 458.15,515.74 454,518.08C449.84,520.42 446.48,526.2 446.48,530.99C446.48,535.78 449.84,537.77 454,535.43C458.15,533.09 461.52,527.31 461.52,522.52Z" />
<clipPath id="slotc2"><path d="M465.06,555.55C462.27,554 462.24,551.49 464.99,549.94C467.74,548.4 472.22,548.4 475.01,549.95L481.75,553.71C484.53,555.26 484.56,557.77 481.81,559.32C479.07,560.86 474.58,560.86 471.8,559.31Z"/></clipPath><path class="w" stroke-width="1.30" d="M465.06,555.55C462.27,554 462.24,551.49 464.99,549.94C467.74,548.4 472.22,548.4 475.01,549.95L481.75,553.71C484.53,555.26 484.56,557.77 481.81,559.32C479.07,560.86 474.58,560.86 471.8,559.31Z" /><g clip-path="url(#slotc2)"><path class="k" stroke-width="1.04" d="M465.06,559.85C462.27,558.3 462.24,555.79 464.99,554.25C467.74,552.7 472.22,552.7 475.01,554.25L481.75,558.01C484.53,559.56 484.56,562.07 481.81,563.62C479.07,565.16 474.58,565.16 471.8,563.61Z" /></g>
<path class="k" stroke-width="1.04" d="M490.69,542.01 L490.69,535.92M499.37,542.05 L499.37,535.95" /><path class="w" stroke-width="1.17" d="M502.6,532.17 L495.81,534.84 L495.81,540.58 L502.6,537.91Z" /><path class="w" stroke-width="1.17" d="M495.81,534.84 L488.25,532.87 L488.25,538.6 L495.81,540.58Z" /><path class="w" stroke-width="1.17" d="M488.25,532.87 L487.47,528.22 L487.47,533.96 L488.25,538.6Z" /><path class="w" stroke-width="1.17" d="M501.82,527.53 L502.6,532.17 L495.81,534.84 L488.25,532.87 L487.47,528.22 L494.25,525.56Z" /><path class="k" stroke-width="0.78" d="M500.06,527.37C502.87,528.94 502.9,531.47 500.13,533.04C497.35,534.6 492.82,534.6 490.01,533.03C487.19,531.46 487.16,528.92 489.94,527.36C492.72,525.8 497.25,525.8 500.06,527.37Z"/>
<path class="k" stroke-width="1.04" d="M447.17,566.51 L447.17,560.42M455.85,566.55 L455.85,560.45" /><path class="w" stroke-width="1.17" d="M459.08,556.67 L452.29,559.34 L452.29,565.08 L459.08,562.41Z" /><path class="w" stroke-width="1.17" d="M452.29,559.34 L444.73,557.37 L444.73,563.1 L452.29,565.08Z" /><path class="w" stroke-width="1.17" d="M444.73,557.37 L443.95,552.72 L443.95,558.46 L444.73,563.1Z" /><path class="w" stroke-width="1.17" d="M458.3,552.03 L459.08,556.67 L452.29,559.34 L444.73,557.37 L443.95,552.72 L450.73,550.06Z" /><path class="k" stroke-width="0.78" d="M456.54,551.87C459.35,553.44 459.38,555.97 456.61,557.54C453.83,559.1 449.3,559.1 446.49,557.53C443.67,555.96 443.64,553.42 446.42,551.86C449.2,550.3 453.73,550.3 456.54,551.87Z"/>
<g style="mix-blend-mode:multiply"><defs><clipPath id="wmc"><rect x="0" y="280" width="537.5" height="160"/></clipPath><clipPath id="boxc"><rect x="48.4" y="289.5" width="118.3" height="145.7"/></clipPath></defs><g clip-path="url(#wmc)"><rect x="48.4" y="289.5" width="118.3" height="145.7" fill="#eef2f8"/><g clip-path="url(#boxc)"><path d="M48.4,300 C54,328 72,348 98,357 C120,363 146,359 167,355 L167,342 C146,345 120,347 97,340 C80,332 67,314 61,289.5 L48.4,289.5 Z" fill="#f8f9f2"/><circle cx="47" cy="401" r="26" fill="#f8f9f4"/></g><text transform="translate(202.6,388) scale(0.87,1)" x="0" y="0" font-family="Liberation Sans" font-weight="bold" font-style="italic" font-size="87" letter-spacing="1.5" style="fill:#edf1f8;stroke:none">MANTION</text><path d="M170,395.5 H540" stroke="#f4f4e2" stroke-width="2.08"/><text transform="translate(387.5,430.5) scale(1.05,1)" x="0" y="0" font-family="Liberation Sans" font-size="32" letter-spacing="2.15" style="fill:#ecf1f7;stroke:none">SYSTEMS</text><text transform="translate(369,430.5) scale(1.05,1)" x="0" y="0" font-family="Liberation Sans" font-size="32" letter-spacing="2.15" text-anchor="end" style="fill:#ecf1f7;stroke:none">SLIDING</text></g></g></g></svg>
</body></html>
